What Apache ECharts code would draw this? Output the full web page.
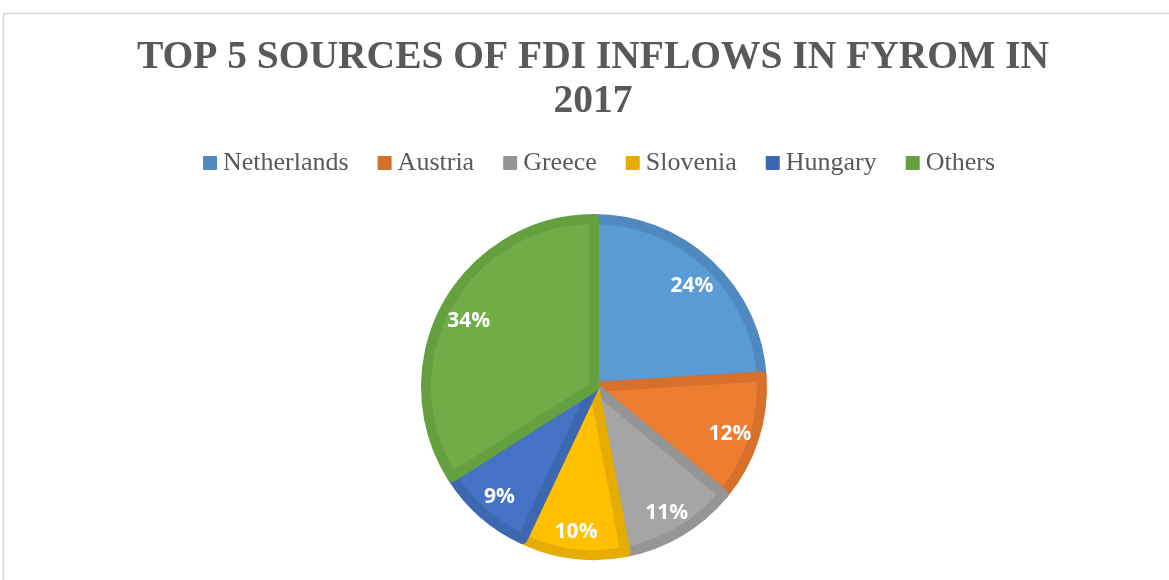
<!DOCTYPE html>
<html>
<head>
<meta charset="utf-8">
<script src="https://cdn.jsdelivr.net/npm/echarts@6/dist/echarts.min.js"></script>
<style>
  html, body { margin: 0; padding: 0; overflow: hidden; background: #ffffff; }
  #chart { width: 1186px; height: 580px; }
</style>
</head>
<body>
<div id="chart"></div>
<script>
// Source countries and their share of FDI inflows (%)
const countries = ['Netherlands', 'Austria', 'Greece', 'Slovenia', 'Hungary', 'Others'];
const shares = [24, 12, 11, 10, 9, 34];

// Slice fills and their darker outlines
const fillColors = ['#5b9bd5', '#ed7d31', '#a5a5a5', '#ffc000', '#4472c4', '#70ad47'];
const edgeColors = ['#5089c0', '#d6702b', '#959595', '#e6ad00', '#3d67b1', '#64a03f'];

const titleLines = ['TOP 5 SOURCES OF FDI INFLOWS IN FYROM IN', '2017'];

const chart = echarts.init(document.getElementById('chart'), null, { renderer: 'canvas' });

const sliceData = countries.map((name, i) => ({
  name: name,
  value: shares[i],
  itemStyle: { color: fillColors[i], borderColor: edgeColors[i] }
}));

const labelData = countries.map((name, i) => ({ name: name, value: shares[i] }));

chart.setOption({
  backgroundColor: '#ffffff',
  animation: false,
  graphic: [{
    type: 'rect',
    silent: true,
    shape: { x: 3.5, y: 13.5, width: 1200, height: 620 },
    style: { fill: 'none', stroke: '#d4d4d4', lineWidth: 1.5 }
  }],
  title: {
    text: titleLines.join('\n'),
    left: 'center',
    top: 36,
    padding: 0,
    textStyle: {
      fontFamily: 'Liberation Serif',
      fontWeight: 'bold',
      fontSize: 39.5,
      lineHeight: 44,
      color: '#595959'
    }
  },
  legend: {
    data: countries.map((name, i) => ({ name: name, itemStyle: { color: edgeColors[i] } })),
    left: 203,
    top: 150,
    padding: 0,
    icon: 'rect',
    itemWidth: 12,
    itemHeight: 12,
    itemGap: 29,
    selectedMode: false,
    textStyle: {
      fontFamily: 'Liberation Serif',
      fontSize: 26,
      color: '#595959',
      padding: [0, 0, 0, 2]
    }
  },
  series: [
    {
      name: 'FDI inflows',
      type: 'pie',
      center: [594, 387],
      radius: [0, 168],
      startAngle: 90,
      clockwise: true,
      silent: true,
      label: { show: false },
      labelLine: { show: false },
      itemStyle: { borderWidth: 10, borderJoin: 'round' },
      emphasis: { disabled: true },
      data: sliceData
    },
    {
      name: 'FDI inflows labels',
      type: 'pie',
      center: [594, 390],
      radius: [108, 172],
      startAngle: 90,
      clockwise: true,
      silent: true,
      percentPrecision: 0,
      itemStyle: { color: 'rgba(0,0,0,0)', borderWidth: 0 },
      emphasis: { disabled: true },
      labelLine: { show: false },
      label: {
        show: true,
        position: 'inside',
        formatter: '{d}%',
        fontFamily: 'Open Sans',
        fontWeight: 'bold',
        fontSize: 21,
        color: '#ffffff'
      },
      data: labelData
    }
  ]
});
</script>
</body>
</html>
